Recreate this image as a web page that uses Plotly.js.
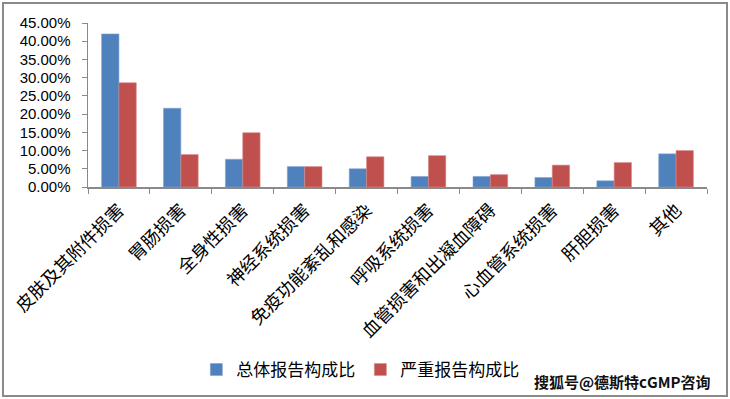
<!DOCTYPE html>
<html>
<head>
<meta charset="utf-8">
<script src="https://cdn.plot.ly/plotly-3.0.1.min.js"></script>
<style>
html,body{margin:0;padding:0;background:#fff;}
#wrap{position:relative;width:730px;height:399px;}
#chart{position:absolute;left:0;top:0;width:730px;height:399px;}
#frame{position:absolute;left:2px;top:2px;width:722px;height:391px;border:2px solid #8a8a8a;pointer-events:none;}
</style>
</head>
<body>
<div id="wrap"><div id="chart"></div><div id="frame"></div></div>
<script>
const categories = ["皮肤及其附件损害","胃肠损害","全身性损害","神经系统损害","免疫功能紊乱和感染","呼吸系统损害","血管损害和出凝血障碍","心血管系统损害","肝胆损害","其他"];
const totalShare = [0.420, 0.216, 0.076, 0.056, 0.050, 0.029, 0.029, 0.026, 0.017, 0.091];
const seriousShare = [0.286, 0.089, 0.149, 0.056, 0.083, 0.086, 0.034, 0.060, 0.067, 0.100];
const seriesNames = ["总体报告构成比","严重报告构成比"];

const traces = [
  {type:"bar", name:seriesNames[0], x:categories, y:totalShare,
   marker:{color:"#4F81BD", line:{color:"#7fa3d1", width:0.6}}},
  {type:"bar", name:seriesNames[1], x:categories, y:seriousShare,
   marker:{color:"#C0504D", line:{color:"#d98886", width:0.6}}}
];

const layout = {
  width:730, height:399,
  margin:{l:88, r:23, t:23, b:212},
  paper_bgcolor:"#ffffff", plot_bgcolor:"#ffffff",
  barmode:"group", bargap:0.44, bargroupgap:0,
  showlegend:true,
  legend:{orientation:"h", x:0.44, xanchor:"center", y:-1.116, yanchor:"middle",
          itemwidth:30,
          font:{family:"Noto Sans CJK SC, sans-serif", size:17, color:"#000"}},
  xaxis:{type:"category", showgrid:false, showline:true, linecolor:"#8a8a8a", linewidth:1.5,
         ticks:"outside", tickson:"boundaries", ticklen:5, tickcolor:"#8a8a8a",
         tickangle:-45, ticklabelstandoff:4,
         tickfont:{family:"Noto Sans CJK SC, serif", size:18, color:"#000"}},
  yaxis:{range:[0,0.45], dtick:0.05, tickformat:".2%", showgrid:false, zeroline:false,
         showline:true, linecolor:"#8a8a8a", linewidth:1.5, ticks:"outside", ticklen:5,
         tickcolor:"#8a8a8a", ticklabelstandoff:8,
         tickfont:{family:"Liberation Sans, Arial, sans-serif", size:15, color:"#000"}},
  annotations:[{xref:"paper", yref:"paper", x:1.0097, y:-1.189, xanchor:"right", yanchor:"middle",
    text:"<b>搜狐号@德斯特cGMP咨询</b>", showarrow:false,
    font:{family:"Noto Sans CJK SC, sans-serif", size:15, color:"#111"}}]
};

Plotly.newPlot("chart", traces, layout, {displayModeBar:false, staticPlot:true});
</script>
</body>
</html>
